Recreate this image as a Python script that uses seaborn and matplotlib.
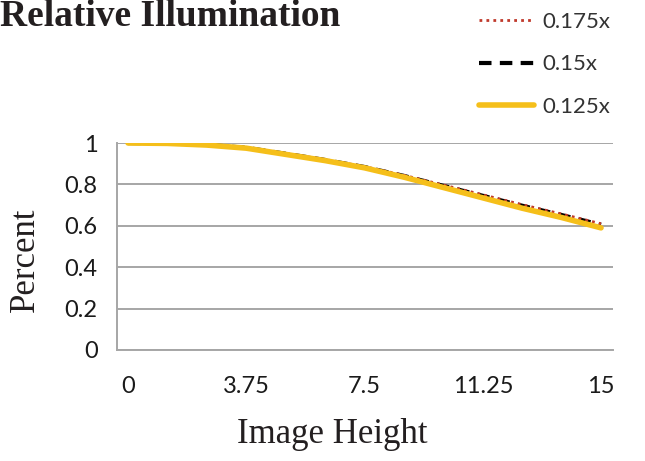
import pandas as pd
import seaborn as sns
import matplotlib.pyplot as plt

# image height positions and relative illumination
image_height = [0, 1.25, 2.5, 3.75, 5, 6.25, 7.5, 8.75, 10, 11.25, 12.5, 13.75, 15]
illum_175 = [1.0, 0.998, 0.991, 0.978, 0.950, 0.920, 0.886, 0.844, 0.797, 0.750, 0.702, 0.657, 0.610]
illum_150 = [1.0, 0.998, 0.991, 0.977, 0.948, 0.918, 0.884, 0.841, 0.793, 0.745, 0.697, 0.652, 0.605]
illum_125 = [1.0, 0.998, 0.990, 0.975, 0.945, 0.915, 0.880, 0.835, 0.785, 0.735, 0.685, 0.640, 0.590]
x_ticks = [0, 3.75, 7.5, 11.25, 15]
x_tick_labels = ['0', '3.75', '7.5', '11.25', '15']
y_ticks = [0, 0.2, 0.4, 0.6, 0.8, 1]
y_tick_labels = ['0', '0.2', '0.4', '0.6', '0.8', '1']

data = pd.DataFrame({'height': image_height, '0.175x': illum_175,
                     '0.15x': illum_150, '0.125x': illum_125})

sns.set_style('white')
plt.rcParams['font.family'] = ['Lato', 'DejaVu Sans']

fig = plt.figure(figsize=(6.45, 4.61), dpi=100)
ax = fig.add_axes([0.1814, 0.2408, 0.769, 0.449])

sns.lineplot(data=data, x='height', y='0.175x', ax=ax, color='#c0392b',
             linestyle=(0, (1, 1.5)), linewidth=2, label='0.175x', zorder=3)
sns.lineplot(data=data, x='height', y='0.15x', ax=ax, color='black',
             linestyle=(0, (3, 2)), linewidth=3, label='0.15x', zorder=2)
sns.lineplot(data=data, x='height', y='0.125x', ax=ax, color='#f5bf1a',
             linewidth=4, label='0.125x', zorder=4)

ax.set_xlim(-0.35, 15.38)
ax.set_ylim(0, 1)
ax.set_xticks(x_ticks)
ax.set_xticklabels(x_tick_labels)
ax.set_yticks(y_ticks)
ax.set_yticklabels(y_tick_labels)
ax.tick_params(axis='both', length=0, labelsize=17, labelcolor='#1a1a1a')
ax.tick_params(axis='x', pad=19)
ax.tick_params(axis='y', pad=14)

ax.grid(axis='y', color='#a6a6a6', linewidth=1.4)
ax.set_axisbelow(True)
for side in ['top', 'right']:
    ax.spines[side].set_visible(False)
for side in ['left', 'bottom']:
    ax.spines[side].set_color('#a6a6a6')
    ax.spines[side].set_linewidth(1.4)

ax.set_xlabel('')
ax.set_ylabel('')
fig.text(0.515, 0.058, 'Image Height', family='Liberation Serif', fontsize=25,
         ha='center', va='center', color='#231f20')
fig.text(0.039, 0.436, 'Percent', family='Liberation Serif', fontsize=25,
         ha='center', va='center', rotation=90, color='#231f20')
fig.text(0.0, 1 - 26 / 461, 'Relative Illumination', family='Liberation Serif',
         fontsize=27, fontweight='bold', ha='left', va='baseline', color='#231f20')

leg = ax.legend(loc='upper left', bbox_to_anchor=(0.711, 1.017), bbox_transform=fig.transFigure,
                frameon=False, fontsize=16, handlelength=2.5, handletextpad=0.36,
                labelspacing=1.0, labelcolor='#333333')

fig.savefig('out.png', dpi=100)
